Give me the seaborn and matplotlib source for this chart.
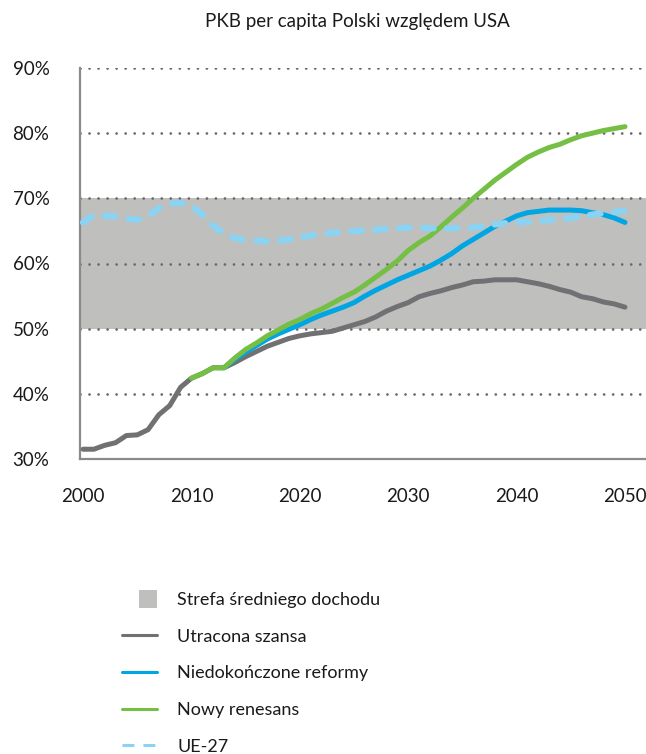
import matplotlib
matplotlib.use("Agg")
import matplotlib.pyplot as plt
from matplotlib.lines import Line2D
from matplotlib.patches import Rectangle, Patch
from matplotlib.legend_handler import HandlerPatch
import seaborn as sns
import pandas as pd
import numpy as np

# ---- data ----
years_all = list(range(2000, 2051))
utracona = [31.5, 31.5, 32.1, 32.5, 33.6, 33.7, 34.5, 36.8, 38.2, 41.0,
            42.4, 43.1, 44.0, 44.0, 44.8, 45.7, 46.5, 47.3, 47.9, 48.5,
            48.9, 49.2, 49.4, 49.6, 50.1, 50.6, 51.1, 51.8, 52.7, 53.4,
            54.0, 54.9, 55.4, 55.8, 56.3, 56.7, 57.2, 57.3, 57.5, 57.5,
            57.5, 57.2, 56.9, 56.5, 56.0, 55.6, 54.9, 54.6, 54.1, 53.8, 53.3]
years_green = list(range(2010, 2051))
renesans = [42.4, 43.1, 44.0, 44.0, 45.5, 46.8, 47.8, 48.9, 49.8, 50.7,
            51.4, 52.3, 53.0, 53.9, 54.8, 55.6, 56.7, 57.9, 59.1, 60.4,
            62.0, 63.2, 64.2, 65.6, 67.1, 68.5, 70.0, 71.4, 72.8, 74.0,
            75.2, 76.3, 77.1, 77.8, 78.3, 79.0, 79.6, 80.0, 80.4, 80.7, 81.0]
years_blue = list(range(2013, 2051))
reformy = [44.0, 45.3, 46.4, 47.4, 48.4, 49.2, 49.9,
           50.6, 51.4, 52.1, 52.7, 53.3, 54.0, 55.0, 55.9, 56.7, 57.5,
           58.2, 58.9, 59.6, 60.5, 61.5, 62.7, 63.7, 64.7, 65.7, 66.5,
           67.3, 67.8, 68.0, 68.2, 68.2, 68.2, 68.1, 67.8, 67.5, 67.0, 66.3]
ue27 = [66.3, 67.4, 67.3, 67.2, 66.9, 66.7, 67.3, 68.5, 69.2, 69.3,
        68.9, 67.5, 65.8, 64.6, 63.9, 63.6, 63.5, 63.4, 63.5, 63.7,
        64.0, 64.3, 64.5, 64.7, 64.9, 65.0, 65.1, 65.2, 65.3, 65.4,
        65.5, 65.5, 65.4, 65.4, 65.4, 65.5, 65.5, 65.7, 66.0, 66.2,
        66.3, 66.4, 66.5, 66.7, 66.8, 67.0, 67.2, 67.5, 67.7, 67.9, 68.1]
band = (50, 70)
x_ticks = [2000, 2010, 2020, 2030, 2040, 2050]
y_ticks = [30, 40, 50, 60, 70, 80, 90]
labels = ["Strefa średniego dochodu", "Utracona szansa",
          "Niedokończone reformy", "Nowy renesans", "UE-27"]
title = "PKB per capita Polski względem USA"

C_GRAY = "#707173"
C_BLUE = "#00A5E3"
C_GREEN = "#74BF44"
C_UE = "#8AD3F3"
C_BAND = "#BFBFBE"

sns.set_style("white")
plt.rcParams['font.family'] = ['Lato', 'DejaVu Sans']
plt.rcParams['text.color'] = '#1a1a1a'

fig = plt.figure(figsize=(6.46, 7.54), dpi=100)
ax = fig.add_axes([80/646, 1-459/754, 566/646, 391/754])

ax.axhspan(band[0], band[1], color=C_BAND, lw=0, zorder=0)
for v in y_ticks[1:]:
    ax.axhline(v, color="#6a6a6a", lw=2.0, ls=(0, (0.01, 3.24)),
               dash_capstyle='round', zorder=1)

df_g = pd.DataFrame({"year": years_all, "v": utracona})
df_b = pd.DataFrame({"year": years_blue, "v": reformy})
df_n = pd.DataFrame({"year": years_green, "v": renesans})
df_u = pd.DataFrame({"year": years_all, "v": ue27})

lw = 3.6
sns.lineplot(data=df_g, x="year", y="v", ax=ax, color=C_GRAY, lw=lw,
             solid_capstyle='round', solid_joinstyle='round', zorder=3)
sns.lineplot(data=df_b, x="year", y="v", ax=ax, color=C_BLUE, lw=lw,
             solid_capstyle='round', solid_joinstyle='round', zorder=4)
sns.lineplot(data=df_n, x="year", y="v", ax=ax, color=C_GREEN, lw=lw,
             solid_capstyle='round', solid_joinstyle='round', zorder=5)
sns.lineplot(data=df_u, x="year", y="v", ax=ax, color=C_UE, lw=4.6,
             ls=(0, (1.65, 2.1)), dash_capstyle='round', zorder=6)

ax.set_xlim(1999.72, 2051.94)
ax.set_ylim(30, 90)
ax.set_xticks(x_ticks)
ax.set_xticklabels([str(t) for t in x_ticks])
ax.set_yticks(y_ticks)
ax.set_yticklabels([f"{t}%" for t in y_ticks])
ax.tick_params(axis='both', length=0, labelsize=13.5, colors='#1a1a1a')
ax.tick_params(axis='y', pad=22)
ax.tick_params(axis='x', pad=21)
ax.set_xlabel("")
ax.set_ylabel("")
for s in ["top", "right"]:
    ax.spines[s].set_visible(False)
for s in ["left", "bottom"]:
    ax.spines[s].set_color("#8a8a8a")
    ax.spines[s].set_linewidth(1.6)
ax.grid(False)

fig.text(357/646, 1-22/754, title, ha='center', va='center', fontsize=13.5)


def square_patch(legend, orig_handle, xdescent, ydescent, width, height, fontsize):
    s = 13.0
    return Rectangle((-xdescent + width - s, -ydescent + height / 2 - s / 2), s, s)


handles = [
    Patch(facecolor=C_BAND, edgecolor='none'),
    Line2D([], [], color=C_GRAY, lw=2.2),
    Line2D([], [], color=C_BLUE, lw=2.2),
    Line2D([], [], color=C_GREEN, lw=2.2),
    Line2D([], [], color=C_UE, lw=2.2, ls=(0, (3.9, 2.95))),
]
fig.legend(handles, labels, loc='upper left',
           bbox_to_anchor=(115/646, 1-585/754), frameon=False,
           fontsize=13, handlelength=1.94, handletextpad=1.11,
           labelspacing=1.14, borderaxespad=0,
           handler_map={Patch: HandlerPatch(patch_func=square_patch)})

fig.savefig("out.png", dpi=100)
